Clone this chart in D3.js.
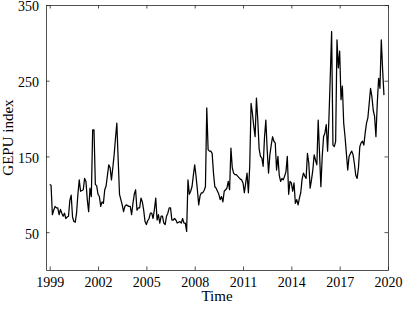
<!DOCTYPE html>
<html>
<head>
<meta charset="utf-8">
<script src="https://cdn.jsdelivr.net/npm/d3@7"></script>
<style>
  body { margin: 0; background: #fff; }
  text { font-family: "Liberation Serif", "Times New Roman", serif; fill: #000; }
</style>
</head>
<body>
<div id="chart"></div>
<script>
// monthly GEPU index, Jan 1999 - Oct 2019
var startYear = 1999;
var gepu = [
  113,112,73,79,84,82,82,73,80,75,71,75,        // 1999
  68,70,71,92,99,70,64,63,75,100,119,104,       // 2000
  105,106,121,117,93,77,108,97,185,185,113,111, // 2001
  100,97,84,90,88,106,111,125,139,135,119,135,  // 2002
  152,174,194,146,100,93,86,77,84,86,85,84,     // 2003
  84,73,88,100,106,79,82,82,95,90,79,64,        // 2004
  60,65,68,75,75,68,80,95,66,73,62,71,          // 2005
  71,62,60,71,75,82,82,66,66,68,66,62,          // 2006
  63,64,62,68,62,62,51,119,100,104,110,125,     // 2007
  139,124,106,86,98,102,102,105,110,214,159,157,// 2008
  157,154,128,110,108,104,100,93,97,90,104,106, // 2009
  108,117,106,161,135,128,126,126,124,122,120,119, // 2010
  115,102,115,128,102,137,220,207,190,176,227,198, // 2011
  160,150,148,137,175,198,159,128,152,165,176,170, // 2012
  168,132,150,125,117,121,119,124,130,150,100,117, // 2013
  115,104,115,88,93,86,95,102,120,128,124,121,  // 2014
  154,141,108,119,132,152,145,139,198,154,110,150, // 2015
  176,181,192,157,200,256,315,165,163,170,304,267, // 2016
  289,225,243,194,176,154,132,150,154,157,152,140, // 2017
  125,121,135,163,168,170,165,181,194,201,220,240, // 2018
  229,211,203,176,220,253,240,304,264,231          // 2019
];
var xTicks = [1999, 2002, 2005, 2008, 2011, 2014, 2017, 2020];
var yTicks = [50, 150, 250, 350];

var W = 407, H = 309;
var margin = {top: 5, right: 19, bottom: 39, left: 46};
var width = W - margin.left - margin.right;
var height = H - margin.top - margin.bottom;

var svg = d3.select("#chart").append("svg")
    .attr("width", W)
    .attr("height", H);

var g = svg.append("g")
    .attr("transform", "translate(" + margin.left + "," + margin.top + ")");

var x = d3.scaleLinear().domain([1998.77, 2020]).range([0, width]);
var y = d3.scaleLinear().domain([0, 350]).range([height, 0]);

var data = gepu.map(function(v, i) { return {t: startYear + i / 12, v: v}; });

// the series
var line = d3.line()
    .x(function(d) { return x(d.t); })
    .y(function(d) { return y(d.v); });

g.append("path")
    .datum(data)
    .attr("fill", "none")
    .attr("stroke", "#000")
    .attr("stroke-width", 1.25)
    .attr("stroke-linejoin", "round")
    .attr("d", line);

// axes, MATLAB style: box with inward ticks on all sides
var axisColor = "#262626";
var tickLen = 3.5;

var xb = g.append("g").attr("transform", "translate(0," + height + ")")
    .call(d3.axisBottom(x).tickValues(xTicks).tickFormat(d3.format("d")).tickSizeInner(-tickLen).tickSizeOuter(0).tickPadding(7));
var xt = g.append("g")
    .call(d3.axisTop(x).tickValues(xTicks).tickFormat("").tickSizeInner(-tickLen).tickSizeOuter(0));
var yl = g.append("g")
    .call(d3.axisLeft(y).tickValues(yTicks).tickSizeInner(-tickLen).tickSizeOuter(0).tickPadding(7));
var yr = g.append("g").attr("transform", "translate(" + width + ",0)")
    .call(d3.axisRight(y).tickValues(yTicks).tickFormat("").tickSizeInner(-tickLen).tickSizeOuter(0));

[xb, xt, yl, yr].forEach(function(a) {
  a.select(".domain").attr("stroke", axisColor).attr("stroke-width", 0.8);
  a.selectAll(".tick line").attr("stroke", axisColor).attr("stroke-width", 0.8);
  a.selectAll(".tick text").style("font-size", "14px").attr("fill", "#000")
    .style("font-family", "'Liberation Serif', 'Times New Roman', serif");
});
yl.selectAll(".tick text").attr("dy", "0.42em");

// axis titles
g.append("text")
    .attr("x", width / 2)
    .attr("y", height + 31)
    .attr("text-anchor", "middle")
    .style("font-size", "15px")
    .text("Time");

g.append("text")
    .attr("transform", "translate(" + (-33) + "," + (height / 2) + ") rotate(-90)")
    .attr("text-anchor", "middle")
    .style("font-size", "15px")
    .text("GEPU index");
</script>
</body>
</html>
